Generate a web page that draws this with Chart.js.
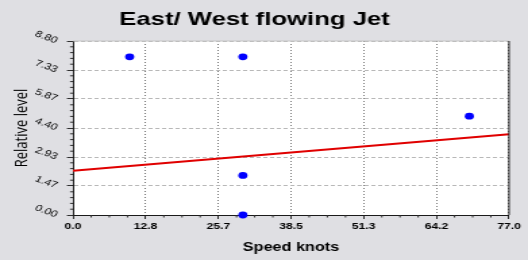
<!DOCTYPE html>
<html><head><meta charset="utf-8">
<script src="https://cdn.jsdelivr.net/npm/chart.js@4/dist/chart.umd.min.js"></script>
<style>
html,body{margin:0;padding:0;background:#dfdfe3;overflow:hidden}
#wrap{width:391px;height:260px;transform:scaleX(1.35038);transform-origin:0 0}
canvas{display:block}
</style></head><body>
<div id="wrap"><canvas id="c" width="391" height="260"></canvas></div>
<script>
const chartTitle = 'East/ West flowing Jet';
const xAxisTitle = 'Speed knots';
const yAxisTitle = 'Relative level';
const xTickLabels = ['0.0','12.8','25.7','38.5','51.3','64.2','77.0'];
const yTickLabels = ['0.00','1.47','2.93','4.40','5.87','7.33','8.80'];
const speedKnots = [10, 30, 30, 30, 70];
const relativeLevel = [8, 8, 2, 0, 5];
const trendSpeed = [0, 77];
const trendLevel = [2.24, 4.08];

const S = 528 / 391;
const FONT = "'Liberation Sans', Arial, sans-serif";

// pick the narrowest available face for the y title (reference uses a condensed face, ~63px long)
const mctx = document.createElement('canvas').getContext('2d');
const candidates = [
  {style: '', family: "'Liberation Sans Narrow'"},
  {style: 'condensed', family: "'DejaVu Sans'"},
  {style: 'condensed', family: "'Open Sans'"},
  {style: 'condensed', family: "'Noto Sans'"},
  {style: '', family: "'Liberation Sans'"}
];
let yTitleFont = {family: FONT, size: 10.6, style: 'normal'};
let best = 0;
for (const c of candidates) {
  mctx.font = (c.style ? c.style + ' ' : '') + '20px ' + c.family + ', sans-serif';
  const w = mctx.measureText(yAxisTitle).width;
  const size = Math.min(13, 20 * 63 / w);
  if (size > best + 0.2) { best = size; yTitleFont = {family: c.family + ', sans-serif', size: size, style: c.style || 'normal'}; }
}

const decor = {
  id: 'decor',
  beforeDraw(chart) {
    const {ctx, chartArea: a} = chart;
    ctx.save();
    ctx.fillStyle = '#dfdfe3';
    ctx.fillRect(0, 0, chart.width, chart.height);
    ctx.fillStyle = '#ffffff';
    ctx.fillRect(a.left, a.top, a.right - a.left, a.bottom - a.top);
    ctx.restore();
  },
  afterDraw(chart) {
    const {ctx, chartArea: a} = chart;
    const xs = chart.scales.x, ys = chart.scales.y;
    ctx.save();
    ctx.strokeStyle = '#c4c4c4';
    ctx.lineWidth = 1;
    ctx.beginPath(); ctx.moveTo(a.left, a.top); ctx.lineTo(a.right, a.top); ctx.stroke();
    ctx.strokeStyle = '#1a1a1a';
    ctx.beginPath(); ctx.moveTo(a.right, a.top); ctx.lineTo(a.right, a.bottom); ctx.stroke();
    // minor ticks
    ctx.strokeStyle = '#303030';
    const xMax = xs.max, yMax = ys.max;
    for (let k = 1; k < 24; k++) {
      if (k % 4 === 0) continue;
      const px = xs.getPixelForValue(k * xMax / 24);
      ctx.beginPath(); ctx.moveTo(px, a.bottom); ctx.lineTo(px, a.bottom + 2.5); ctx.stroke();
    }
    for (let k = 1; k < 30; k++) {
      if (k % 5 === 0) continue;
      const py = ys.getPixelForValue(k * yMax / 30);
      ctx.beginPath(); ctx.moveTo(a.left - 2.2, py); ctx.lineTo(a.left, py); ctx.stroke();
    }
    ctx.restore();
  }
};

new Chart(document.getElementById('c'), {
  type: 'scatter',
  data: {
    datasets: [
      {
        data: speedKnots.map((v, i) => ({x: v, y: relativeLevel[i]})),
        backgroundColor: '#0000ff',
        borderColor: '#0000ff',
        pointRadius: 3.4,
        borderWidth: 0,
        clip: false,
        order: 1
      },
      {
        data: trendSpeed.map((v, i) => ({x: v, y: trendLevel[i]})),
        showLine: true,
        borderColor: '#e00000',
        borderWidth: 2,
        pointRadius: 0,
        fill: false,
        order: 2
      }
    ]
  },
  options: {
    responsive: false,
    animation: false,
    devicePixelRatio: 1,
    layout: {padding: {left: 0, right: 391 - 509 / S, top: 0, bottom: 0}},
    plugins: {
      legend: {display: false},
      tooltip: {enabled: false},
      title: {
        display: true,
        text: chartTitle,
        color: '#000',
        font: {family: FONT, size: 19, weight: 'bold'},
        padding: {top: 8, bottom: 10.2}
      }
    },
    scales: {
      x: {
        type: 'linear',
        min: 0, max: 77,
        afterFit(s) { s.height = 45; },
        afterBuildTicks(s) { s.ticks = xTickLabels.map(t => ({value: parseFloat(t)})); },
        ticks: {
          callback: (v, i) => xTickLabels[i],
          color: '#000',
          font: {family: FONT, size: 9, weight: 'bold'},
          padding: 2,
          maxRotation: 0, minRotation: 0,
          autoSkip: false
        },
        grid: {
          color: '#7a7a7a',
          lineWidth: 1,
          tickLength: 4,
          tickColor: '#303030',
          tickBorderDash: []
        },
        border: {display: true, color: '#1a1a1a', width: 1, dash: [1, 2]},
        title: {
          display: true,
          text: xAxisTitle,
          color: '#000',
          font: {family: FONT, size: 12, weight: 'bold'},
          padding: {top: 0, bottom: 5.2}
        }
      },
      y: {
        type: 'linear',
        min: 0, max: 8.8,
        afterFit(s) { s.width = 73 / S; },
        afterBuildTicks(s) { s.ticks = yTickLabels.map(t => ({value: parseFloat(t)})); },
        ticks: {
          callback: (v, i) => yTickLabels[i],
          color: '#000',
          font: {family: FONT, size: 9},
          padding: 7.5,
          minRotation: -25, maxRotation: -25,
          autoSkip: false
        },
        grid: {
          color: '#b8b8b8',
          lineWidth: 1,
          tickLength: 4.5,
          tickColor: '#303030',
          tickBorderDash: []
        },
        border: {display: true, color: '#1a1a1a', width: 1, dash: [3, 2]},
        title: {
          display: true,
          text: yAxisTitle,
          color: '#000',
          font: yTitleFont,
          padding: {top: 16.3 - yTitleFont.size * 0.6, bottom: 0}
        }
      }
    }
  },
  plugins: [decor]
});
</script>
</body></html>
